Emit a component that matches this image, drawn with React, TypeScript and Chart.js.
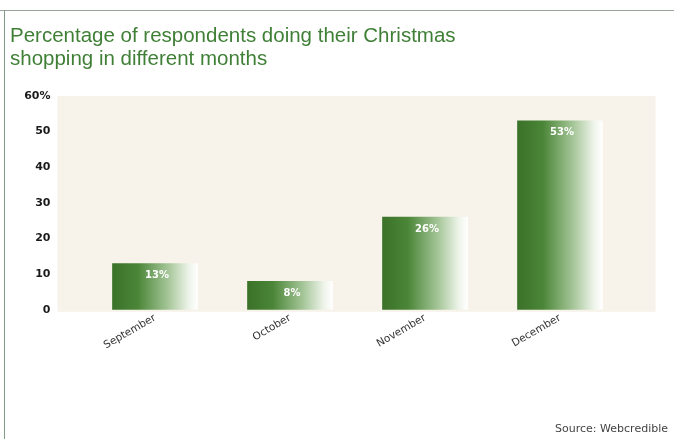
import React, { useEffect, useRef } from "react";
import { Chart, registerables } from "chart.js";

Chart.register(...registerables);

const months = ["September", "October", "November", "December"];
const shares = [13, 8, 26, 53];
const shareLabels = ["13%", "8%", "26%", "53%"];
const titleLines = [
  "Percentage of respondents doing their Christmas",
  "shopping in different months",
];
const sourceText = "Source: Webcredible";

const GREEN = "#3f7f36";

const backdropPlugin = {
  id: "backdrop",
  beforeDraw(chart: any) {
    const { ctx, chartArea, width, height } = chart;
    ctx.save();
    ctx.fillStyle = "#ffffff";
    ctx.fillRect(0, 0, width, height);
    ctx.strokeStyle = "#9aa39a";
    ctx.lineWidth = 1;
    ctx.beginPath();
    ctx.moveTo(0, 10.5);
    ctx.lineTo(width, 10.5);
    ctx.stroke();
    ctx.strokeStyle = "#7f9a80";
    ctx.beginPath();
    ctx.moveTo(4.5, 10);
    ctx.lineTo(4.5, height);
    ctx.stroke();
    ctx.fillStyle = "#f7f2ea";
    ctx.fillRect(chartArea.left - 30, chartArea.top, chartArea.right - chartArea.left + 58, chartArea.bottom - chartArea.top + 2);
    ctx.restore();
  },
};

const valueLabelPlugin = {
  id: "valueLabels",
  afterDatasetsDraw(chart: any) {
    const { ctx } = chart;
    const meta = chart.getDatasetMeta(0);
    ctx.save();
    ctx.fillStyle = "#ffffff";
    ctx.font = "bold 10px 'DejaVu Sans', Arial, sans-serif";
    ctx.textAlign = "center";
    ctx.textBaseline = "middle";
    meta.data.forEach((bar: any, i: number) => {
      ctx.fillText(shareLabels[i], bar.x + 2, bar.y + 12);
    });
    ctx.restore();
  },
};

export default function App() {
  const canvasRef = useRef<HTMLCanvasElement | null>(null);

  useEffect(() => {
    const canvas = canvasRef.current;
    if (!canvas) return;
    const chart = new Chart(canvas, {
      type: "bar",
      data: {
        labels: months,
        datasets: [
          {
            data: shares,
            barThickness: 85,
            borderWidth: 0,
            backgroundColor: (c: any) => {
              const ch = c.chart;
              const xs = ch.scales && ch.scales.x;
              if (!xs || !ch.chartArea) return "#4a8a3a";
              const cx = xs.getPixelForValue(c.dataIndex);
              const g = ch.ctx.createLinearGradient(cx - 42.5, 0, cx + 42.5, 0);
              g.addColorStop(0, "#3a7229");
              g.addColorStop(0.3, "#4b8638");
              g.addColorStop(0.65, "#a4c597");
              g.addColorStop(0.9, "#eef4ea");
              g.addColorStop(1, "#ffffff");
              return g;
            },
          },
        ],
      },
      options: {
        animation: false,
        responsive: false,
        maintainAspectRatio: false,
        layout: { padding: { left: 10, right: 6, top: 0, bottom: 0 } },
        plugins: {
          legend: { display: false },
          tooltip: { enabled: false },
          title: {
            display: true,
            text: titleLines,
            align: "start",
            color: GREEN,
            font: { family: "'Liberation Sans', Arial, sans-serif", size: 20.5, weight: "normal", lineHeight: 1.12 },
            padding: { top: 24.5, bottom: 25.5 },
          },
          subtitle: {
            display: true,
            text: sourceText,
            position: "bottom",
            align: "end",
            color: "#444444",
            font: { family: "'DejaVu Sans', Arial, sans-serif", size: 11, weight: "normal", lineHeight: 1.2 },
            padding: { top: 0, bottom: 3 },
          },
        },
        scales: {
          x: {
            grid: { display: false, drawTicks: false },
            border: { display: false },
            ticks: {
              color: "#333333",
              font: { family: "'DejaVu Sans', Arial, sans-serif", size: 10.5 },
              minRotation: 30,
              maxRotation: 30,
              padding: 2,
            },
            afterFit: (s: any) => {
              s.height = 113;
            },
          },
          y: {
            min: 0,
            max: 60,
            grid: { display: false, drawTicks: false },
            border: { display: false },
            ticks: {
              stepSize: 10,
              color: "#1a1a1a",
              font: { family: "'DejaVu Sans', Arial, sans-serif", size: 11, weight: "bold" },
              padding: 37,
              callback: (v: any) => (v === 60 ? "60%" : String(v)),
            },
            afterFit: (s: any) => {
              s.width = 77.5;
            },
          },
          yRight: {
            position: "right",
            display: true,
            grid: { display: false, drawTicks: false },
            border: { display: false },
            ticks: { display: false },
            afterFit: (s: any) => {
              s.width = 40.5;
            },
          },
        },
      },
      plugins: [backdropPlugin, valueLabelPlugin],
    });
    return () => chart.destroy();
  }, []);

  return (
    <div style={{ position: "fixed", left: 0, top: 0, width: 674, height: 439, background: "#fff" }}>
      <canvas ref={canvasRef} width={674} height={439} style={{ display: "block", width: 674, height: 439 }} />
    </div>
  );
}
